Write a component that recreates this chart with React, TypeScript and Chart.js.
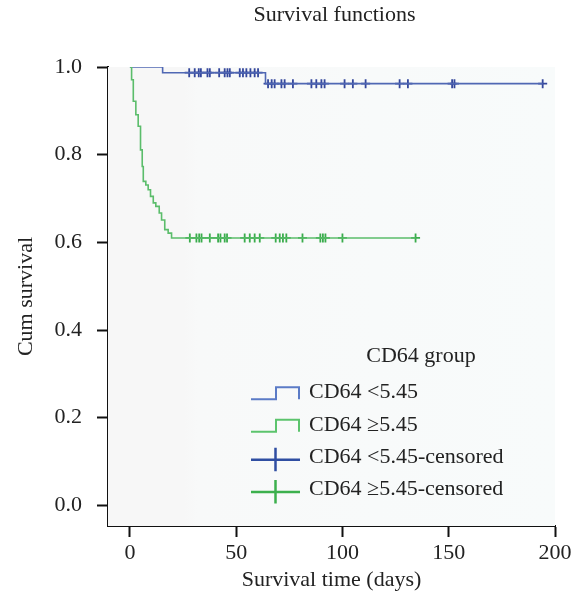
import React, { useEffect, useRef } from "react";
import { Chart, registerables } from "chart.js";

Chart.register(...registerables);

const TITLE = "Survival functions";
const X_TITLE = "Survival time (days)";
const Y_TITLE = "Cum survival";
const LEGEND_TITLE = "CD64 group";
const LEGEND_LABELS = [
  "CD64 <5.45",
  "CD64 \u22655.45",
  "CD64 <5.45-censored",
  "CD64 \u22655.45-censored",
];

const xTicks = [0, 50, 100, 150, 200];
const yTicks = [0, 0.2, 0.4, 0.6, 0.8, 1.0];

// CD64 <5.45 : step events (time in days, cumulative survival after the step)
const lowTimes = [0, 15.4, 63.8, 194.2];
const lowSurv = [1.0, 0.987, 0.962, 0.962];
const lowCensorTimes = [
  27.9, 30.5, 32.4, 33.4, 36.5, 37.6, 42.0, 44.6, 45.9, 47.0, 51.7, 53.2, 54.8,
  56.7, 58.7, 60.3, 65.0, 66.7, 68.1, 71.3, 72.8, 76.7, 85.4, 87.7, 90.1, 91.6,
  101.0, 104.9, 110.9, 126.9, 130.8, 151.6, 152.7, 194.2,
];

// CD64 >=5.45
const highTimes = [
  0, 0.8, 1.6, 2.8, 3.9, 5.0, 5.8, 6.3, 7.5, 8.6, 9.7, 11.0, 12.2, 13.8, 14.9,
  16.4, 18.0, 19.6, 134.4,
];
const highSurv = [
  1.0, 0.971, 0.922, 0.891, 0.865, 0.811, 0.773, 0.739, 0.731, 0.72, 0.705,
  0.69, 0.682, 0.667, 0.651, 0.629, 0.621, 0.61, 0.61,
];
const highCensorTimes = [
  28.2, 31.3, 32.6, 33.7, 37.6, 41.5, 42.6, 44.6, 45.7, 54.0, 56.4, 58.7, 61.1,
  68.6, 70.5, 72.0, 73.6, 81.2, 89.6, 90.8, 92.0, 100.0, 134.4,
];

const LOW_LINE = "#5068b4";
const LOW_MARK = "#34479c";
const HIGH_LINE = "#5bbd6b";
const HIGH_MARK = "#3aac4c";
const LOW_LEG_LINE = "#5b7bc6";
const LOW_LEG_MARK = "#2f4ea2";
const HIGH_LEG_LINE = "#5cc46d";
const HIGH_LEG_MARK = "#3cb04d";

const FONT = "'Liberation Serif', 'Times New Roman', serif";
const FS = 22;

function survAt(times: number[], surv: number[], t: number) {
  let s = surv[0];
  for (let i = 0; i < times.length; i++) {
    if (times[i] <= t) s = surv[i];
  }
  return s;
}

const bgPlugin = {
  id: "bgPlugin",
  beforeDatasetsDraw(chart: any) {
    const { ctx, chartArea } = chart;
    const w = chartArea.right - chartArea.left;
    ctx.save();
    const g = ctx.createLinearGradient(chartArea.left, 0, chartArea.right, 0);
    g.addColorStop(0, "#f7f7f7");
    g.addColorStop(0.17, "#f7f7f7");
    g.addColorStop(0.2, "#f8f9f9");
    g.addColorStop(1, "#f8fbfb");
    ctx.fillStyle = g;
    ctx.fillRect(chartArea.left, chartArea.top, w, chartArea.bottom - chartArea.top);
    ctx.restore();
  },
};

const overlayPlugin = {
  id: "overlayPlugin",
  afterDraw(chart: any) {
    const { ctx, chartArea } = chart;
    ctx.save();
    ctx.fillStyle = "#222";
    ctx.font = `${FS}px ${FONT}`;
    ctx.textBaseline = "alphabetic";
    ctx.textAlign = "center";
    ctx.fillText(TITLE, (chartArea.left + chartArea.right) / 2 + 3, 21);

    // legend
    ctx.fillText(LEGEND_TITLE, 421, 362);
    const baselines = [398.3, 430.7, 462.7, 495];
    const x0 = 251;
    const x1 = 299;
    const xm = 276;
    ctx.textAlign = "left";
    baselines.forEach((b, i) => {
      ctx.fillStyle = "#222";
      ctx.fillText(LEGEND_LABELS[i], 309, b);
      if (i < 2) {
        ctx.strokeStyle = i === 0 ? LOW_LEG_LINE : HIGH_LEG_LINE;
        ctx.lineWidth = 2;
        const low = b + 1;
        const top = low - 12;
        ctx.beginPath();
        ctx.moveTo(x0, low);
        ctx.lineTo(xm, low);
        ctx.lineTo(xm, top);
        ctx.lineTo(x1, top);
        ctx.lineTo(x1, low);
        ctx.stroke();
      } else {
        ctx.strokeStyle = i === 2 ? LOW_LEG_MARK : HIGH_LEG_MARK;
        ctx.lineWidth = 2.5;
        const cy = b - 3;
        ctx.beginPath();
        ctx.moveTo(x0, cy);
        ctx.lineTo(x1 + 1, cy);
        ctx.moveTo(xm - 0.5, cy - 12);
        ctx.lineTo(xm - 0.5, cy + 11.5);
        ctx.stroke();
      }
    });
    ctx.restore();
  },
};

export default function App() {
  const ref = useRef<HTMLCanvasElement | null>(null);

  useEffect(() => {
    if (!ref.current) return;
    const lowCurve = lowTimes.map((t, i) => ({ x: t, y: lowSurv[i] }));
    const highCurve = highTimes.map((t, i) => ({ x: t, y: highSurv[i] }));
    const lowCens = lowCensorTimes.map((t) => ({ x: t, y: survAt(lowTimes, lowSurv, t) }));
    const highCens = highCensorTimes.map((t) => ({ x: t, y: survAt(highTimes, highSurv, t) }));

    const tickFont = { family: FONT, size: FS };

    const chart = new Chart(ref.current, {
      type: "line",
      data: {
        datasets: [
          {
            data: highCurve,
            borderColor: HIGH_LINE,
            borderWidth: 1.6,
            stepped: "before",
            pointRadius: 0,
            fill: false,
          },
          {
            data: lowCurve,
            borderColor: LOW_LINE,
            borderWidth: 1.6,
            stepped: "before",
            pointRadius: 0,
            fill: false,
          },
          {
            data: highCens,
            showLine: false,
            pointStyle: "cross",
            pointRadius: 4.5,
            borderColor: HIGH_MARK,
            backgroundColor: HIGH_MARK,
            pointBorderWidth: 1.8,
          },
          {
            data: lowCens,
            showLine: false,
            pointStyle: "cross",
            pointRadius: 4.5,
            borderColor: LOW_MARK,
            backgroundColor: LOW_MARK,
            pointBorderWidth: 1.8,
          },
        ],
      } as any,
      options: {
        animation: false,
        responsive: false,
        devicePixelRatio: 1,
        layout: { padding: { top: 67, right: 21, left: 0, bottom: 0 } },
        plugins: {
          legend: { display: false },
          title: { display: false },
          tooltip: { enabled: false },
        },
        scales: {
          x: {
            type: "linear",
            min: -10.3,
            max: 200,
            afterBuildTicks: (s: any) => {
              s.ticks = xTicks.map((v) => ({ value: v }));
            },
            afterFit: (s: any) => {
              s.height = 66;
            },
            border: { display: true, color: "#111", width: 2 },
            grid: {
              display: true,
              drawOnChartArea: false,
              drawTicks: true,
              tickLength: 11,
              tickWidth: 2,
              tickColor: "#111",
            },
            ticks: {
              color: "#222",
              font: tickFont,
              padding: 3,
              maxRotation: 0,
              callback: (v: any) => String(v),
            },
            title: {
              display: true,
              text: X_TITLE,
              color: "#222",
              font: tickFont,
              padding: { top: 0, bottom: -1 },
            },
          },
          y: {
            type: "linear",
            min: -0.047,
            max: 1.0,
            afterBuildTicks: (s: any) => {
              s.ticks = yTicks.map((v) => ({ value: v }));
            },
            afterFit: (s: any) => {
              s.width = 108;
            },
            border: { display: true, color: "#111", width: 2 },
            grid: {
              display: true,
              drawOnChartArea: false,
              drawTicks: true,
              tickLength: 11,
              tickWidth: 2,
              tickColor: "#111",
            },
            ticks: {
              color: "#222",
              font: tickFont,
              padding: 15,
              callback: (v: any) => Number(v).toFixed(1),
            },
            title: {
              display: true,
              text: Y_TITLE,
              color: "#222",
              font: tickFont,
              padding: { top: 13, bottom: 0 },
            },
          },
        },
      } as any,
      plugins: [bgPlugin, overlayPlugin],
    });
    return () => chart.destroy();
  }, []);

  return (
    <div style={{ position: "absolute", left: 0, top: 0, width: 576, height: 592, background: "#fff" }}>
      <canvas ref={ref} width={576} height={592} style={{ display: "block", width: 576, height: 592 }} />
    </div>
  );
}
